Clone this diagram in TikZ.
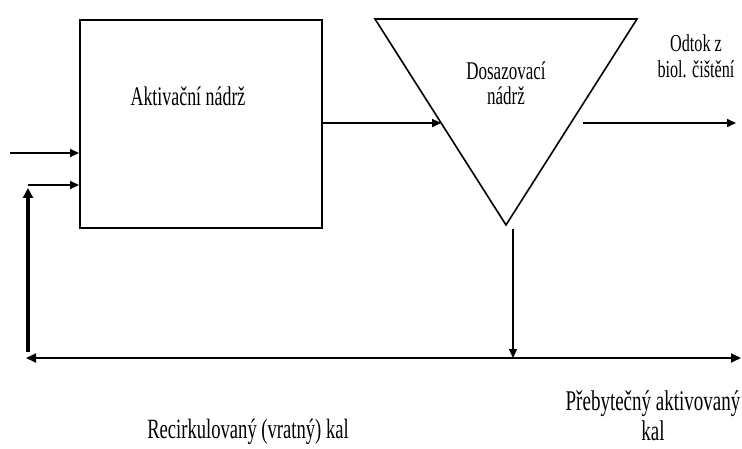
\documentclass[tikz,border=0pt]{standalone}
\usepackage{fontspec}
\usepackage{graphicx}
\setmainfont{Liberation Serif}
\usetikzlibrary{arrows.meta,calc}
\newcommand{\tallbox}[2]{{\fontsize{#1}{#1}\selectfont\scalebox{1}[1.5]{\begin{tabular}{@{}c@{}}#2\end{tabular}}}}
\tikzset{
  lbl/.style={inner sep=0pt, align=center},
  flow/.style={line width=1.6pt, -{Triangle[length=9pt,width=8pt]}},
  thickflow/.style={line width=3.2pt, -{Triangle[length=10pt,width=10pt]}},
}
\begin{document}
\begin{tikzpicture}[x=1pt,y=-1pt]
\useasboundingbox (0,0) rectangle (742,449);
% Activation tank
\node[draw, line width=2pt, minimum width=242pt, minimum height=208pt, inner sep=0pt] (akt) at (201,124) {};
\node[lbl] (akttxt) at (188,100) {\tallbox{17.9}{Aktivační nádrž}};
% Settling tank (triangle)
\coordinate (tl) at (375,19);
\coordinate (tr) at (637,19);
\coordinate (bot) at (506,225);
\draw[line width=1.6pt, line join=miter] (tl) -- (tr) -- (bot) -- cycle;
\node[lbl] (dostxt) at (506,87) {\tallbox{17}{Dosazovací\\nádrž}};
% box -> triangle
\coordinate (inT) at ($(tl)!0.505!(bot)$);
\draw[flow] (akt.east |- inT) -- (inT);
% outlet
\coordinate (outS) at (583,123);
\coordinate (outE) at (736,123);
\draw[flow] (outS) -- (outE);
\node[lbl] (odtok) at (696,60) {\tallbox{16.2}{Odtok z\\[1pt]biol. čištění}};
% sludge down
\coordinate (apexS) at (513,229);
\coordinate (junc) at (513,358);
\draw[line width=1.2pt, -{Triangle[length=9pt,width=8pt]}] (apexS) -- (junc);
% bottom line
\coordinate (bl) at (26,358);
\coordinate (br) at (741,358);
\draw[line width=1.8pt, {Triangle[length=10pt,width=9pt]}-{Triangle[length=10pt,width=9pt]}] (bl) -- (br);
% recirculation
\coordinate (rcB) at (28,352);
\coordinate (rcT) at (28,188);
\coordinate (rcC) at (28,185);
\draw[thickflow] (rcB) -- (rcT);
\draw[flow] (rcC) -- (akt.west |- rcC);
% inflow
\coordinate (inS) at (10,153);
\draw[flow] (inS) -- (akt.west |- inS);
% labels
\node[lbl] (recirc) at (248,433) {\tallbox{18.6}{Recirkulovaný (vratný) kal}};
\node[lbl] (preb) at (653,420) {\tallbox{19}{Přebytečný aktivovaný\\[1pt]kal}};
\end{tikzpicture}
\end{document}
